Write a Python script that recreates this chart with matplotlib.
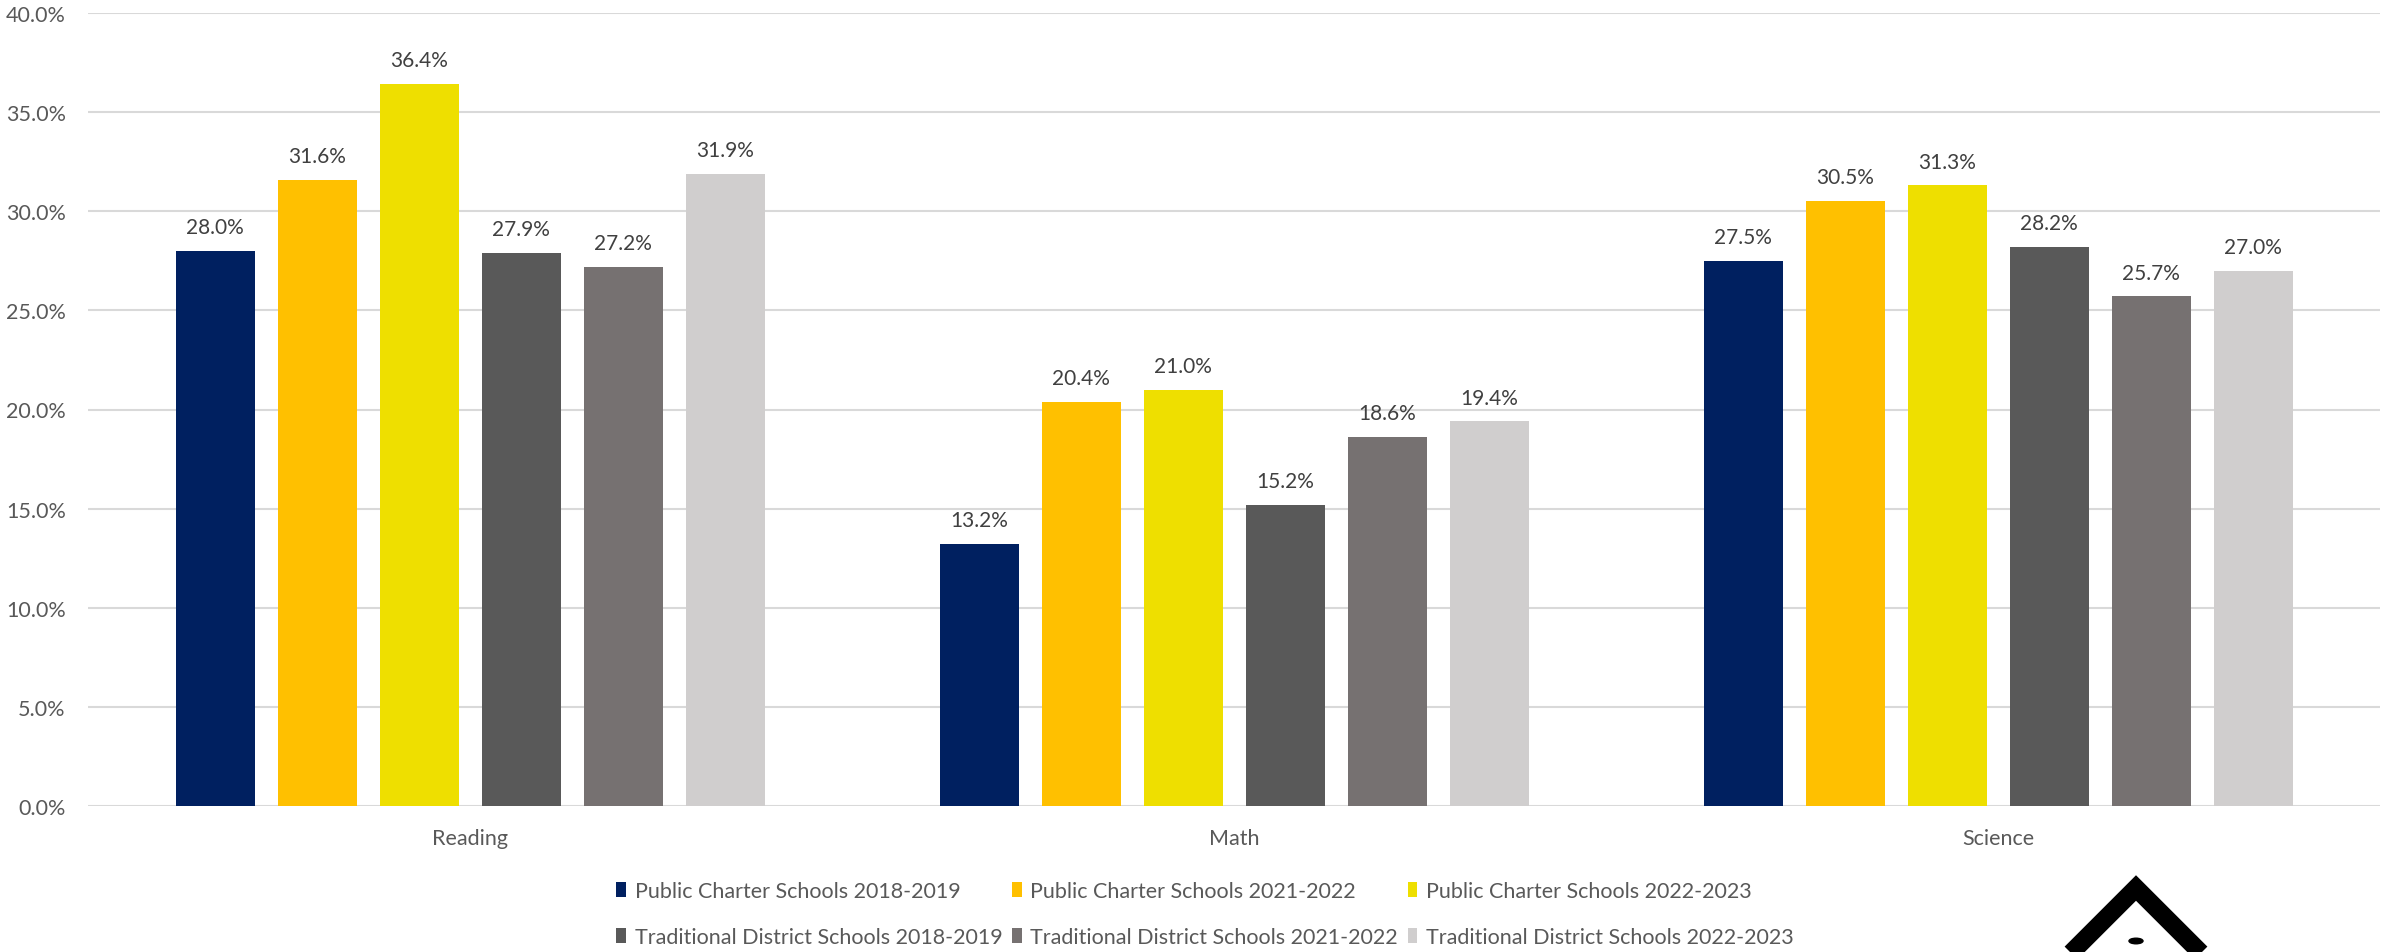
import matplotlib
matplotlib.use("Agg")
import matplotlib.pyplot as plt
import numpy as np
from matplotlib.patches import Patch, Polygon, Circle

categories = ["Reading", "Math", "Science"]
series_names = [
    "Public Charter Schools 2018-2019",
    "Public Charter Schools 2021-2022",
    "Public Charter Schools 2022-2023",
    "Traditional District Schools 2018-2019",
    "Traditional District Schools 2021-2022",
    "Traditional District Schools 2022-2023",
]
pcs_2018 = [28.0, 13.2, 27.5]
pcs_2021 = [31.6, 20.4, 30.5]
pcs_2022 = [36.4, 21.0, 31.3]
tds_2018 = [27.9, 15.2, 28.2]
tds_2021 = [27.2, 18.6, 25.7]
tds_2022 = [31.9, 19.4, 27.0]
series_values = [pcs_2018, pcs_2021, pcs_2022, tds_2018, tds_2021, tds_2022]
colors = ["#002060", "#FFC000", "#EEDF00", "#595959", "#767171", "#D0CECE"]
yticks = [0, 5, 10, 15, 20, 25, 30, 35, 40]

plt.rcParams['font.family'] = ['Lato', 'DejaVu Sans']
TXT = "#595959"

W, H = 2384, 953
fig = plt.figure(figsize=(W / 100, H / 100), dpi=100)
ax = fig.add_axes([88 / W, 1 - 807 / H, (2380 - 88) / W, (807 - 14) / H])

x = np.arange(len(categories))
step = 102 / 764
width = 79 / 764
for i, (name, vals, c) in enumerate(zip(series_names, series_values, colors)):
    xs = x + (i - 2.5) * step
    ax.bar(xs, vals, width=width, color=c, zorder=3, label=name)
    for xi, v in zip(xs, vals):
        ax.annotate(f"{v:.1f}%", (xi, v), xytext=(0, 10), textcoords="offset points",
                    ha="center", va="bottom", fontsize=15, color="#404040")

ax.set_xlim(-0.5, 2.5)
ax.set_ylim(0, 40)
ax.set_yticks(yticks)
ax.set_yticklabels([f"{t:.1f}%" for t in yticks])
ax.set_xticks(x)
ax.set_xticklabels(categories)
ax.tick_params(axis="both", length=0, labelsize=15.5, colors=TXT)
ax.tick_params(axis="y", pad=16)
ax.tick_params(axis="x", pad=16)
ax.grid(axis="y", color="#D9D9D9", linewidth=1.5, zorder=0)
for s in ax.spines.values():
    s.set_visible(False)

order = [0, 3, 1, 4, 2, 5]
leg_handles = [Patch(facecolor=colors[i]) for i in order]
leg_labels = [series_names[i] for i in order]
fig.legend(leg_handles, leg_labels, ncol=3, loc="center",
           bbox_to_anchor=(1205 / W, 1 - 915 / H), frameon=False,
           fontsize=15.5, handlelength=0.45, handleheight=0.65, handletextpad=0.4,
           columnspacing=0.45, labelspacing=1.2, borderpad=0, labelcolor=TXT)

# decorative logo (diamond) bottom right
cx, cy = 2136, 957
r = 68
pts = [(cx, cy + r), (cx + r, cy), (cx, cy - r), (cx - r, cy)]
pts = [(px / W, 1 - py / H) for px, py in pts]
fig.patches.append(Polygon(pts, closed=True, fill=False, edgecolor="black",
                           linewidth=13, joinstyle="miter", transform=fig.transFigure))
fig.patches.append(Circle((cx / W, 1 - 942 / H), 7 / W, color="black",
                          transform=fig.transFigure))

fig.savefig("out.png", dpi=100)
